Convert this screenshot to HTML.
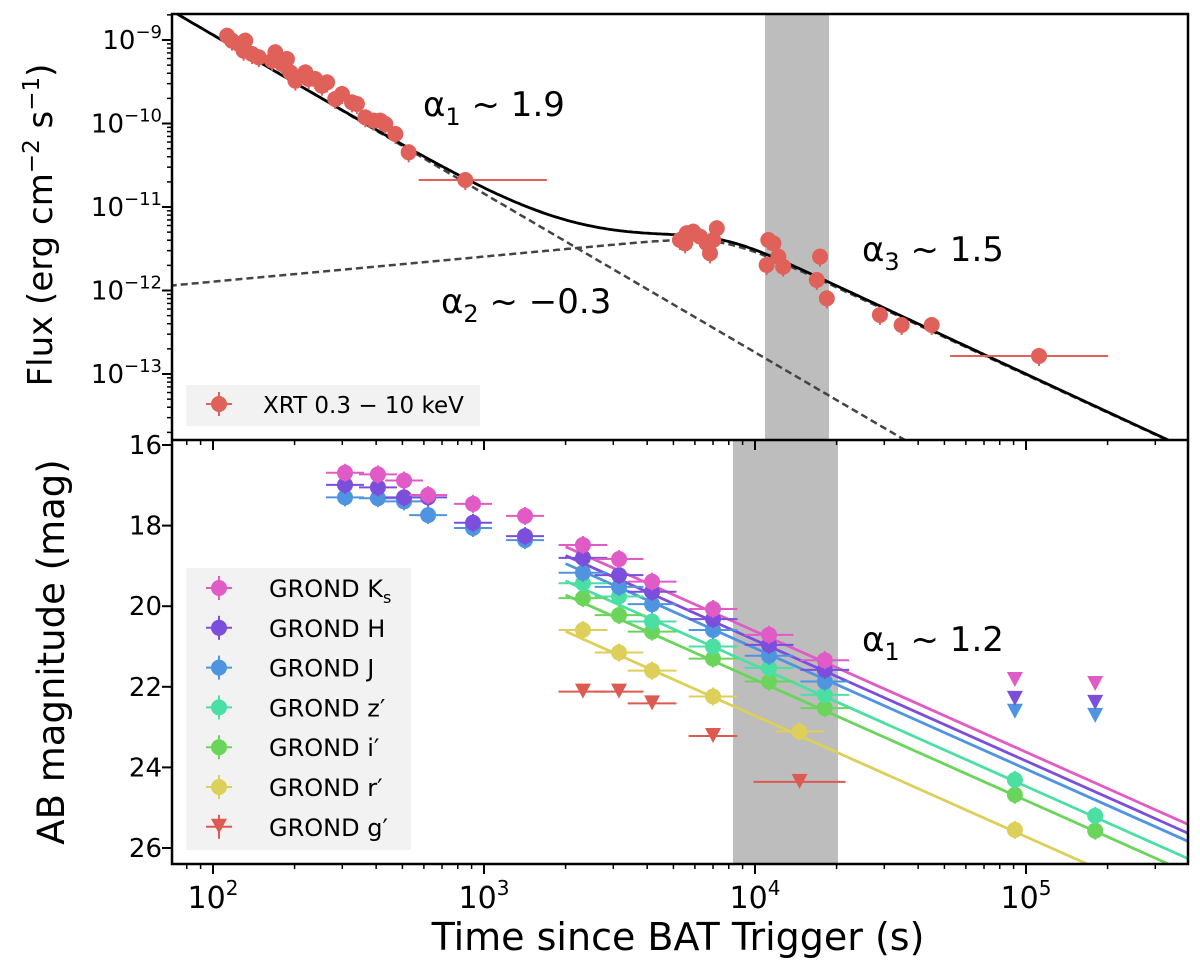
<!DOCTYPE html>
<html><head><meta charset="utf-8"><style>
body{margin:0;background:#fff}
svg{display:block;font-family:"DejaVu Sans","Liberation Sans",sans-serif}
</style></head><body>
<svg id="chart" width="1200" height="966" viewBox="0 0 1200 966"></svg>
<script>
// ---- data ----
const xrtLogT = [2.052,2.070,2.095,2.119,2.113,2.144,2.169,2.218,2.230,2.255,2.273,2.285,2.304,2.341,2.353,2.377,2.402,2.421,2.451,2.476,2.513,2.531,2.562,2.593,2.617,2.636,2.673,2.722,2.931,3.723,3.748,3.772,3.797,3.822,3.834,3.859,3.846,3.742,4.049,4.068,4.043,4.086,4.104,4.240,4.228,4.265,4.461,4.541,4.652,5.048];
const xrtLogF = [-8.949,-9.008,-9.048,-9.008,-9.128,-9.168,-9.207,-9.248,-9.147,-9.287,-9.228,-9.387,-9.487,-9.387,-9.467,-9.467,-9.547,-9.507,-9.707,-9.647,-9.747,-9.766,-9.926,-9.966,-9.966,-10.006,-10.126,-10.345,-10.677,-11.395,-11.315,-11.295,-11.355,-11.435,-11.555,-11.255,-11.395,-11.435,-11.395,-11.435,-11.695,-11.595,-11.715,-11.595,-11.874,-12.094,-12.293,-12.413,-12.413,-12.784];
const xrtXErrLo = {28:2.759, 49:4.720};
const xrtXErrHi = {28:3.232, 49:5.303};
const fitAlpha1 = 1.9, fitAlpha2 = -0.3, fitAlpha3 = 1.5;
const fitNorm1 = -8.94, fitNorm2 = -11.33, fitLogBreak = 3.88;

const gTimes = [307,406,507,622,911,1417,2318,3150,4170,7000,11270,18100];
const magKs = [16.69,16.73,16.88,17.24,17.46,17.76,18.48,18.83,19.39,20.07,20.71,21.34];
const magH  = [16.99,17.05,17.30,17.30,17.93,18.26,18.80,19.23,19.64,20.32,20.96,21.58];
const magJ  = [17.30,17.32,17.40,17.74,18.06,18.36,19.17,19.52,19.95,20.59,21.23,21.87];
const lateTimes = [91000,180000];
const limKs = [21.83,21.93], limH = [22.30,22.40], limJ = [22.62,22.72];
const zTimes = [2318,3150,4170,7000,11270,18100,91000,180000];
const magZ = [19.43,19.76,20.38,21.00,21.53,22.20,24.31,25.20];
const magI = [19.80,20.22,20.63,21.30,21.87,22.53,24.68,25.57];
const rTimes = [2318,3150,4170,7000,14600,91000];
const magR = [20.59,21.15,21.60,22.24,23.11,25.55];
const gLimTimes = [2318,3150,4170,7000,14600];
const limG = [22.12,22.12,22.41,23.22,24.36];
const lineOffsets = {Ks:0,H:0.22,J:0.42,z:0.85,i:1.2,r:2.1};
const lineMag0 = 20.62; // K line at t=1e4
const alphaOpt = 1.2;
const xTicks = [2,3,4,5];
const topTicks = [-9,-10,-11,-12,-13];
const botTicks = [16,18,20,22,24,26];

// ---- scales ----
const X0=172,X1=1188,T0=14,TB=440,B1=864;
const xS = lt => 484 + (lt-3)*271;
const yT = lf => 40 + (-9-lf)*83.5;
const yB = m => 445 + (m-16)*40.3;
const NS='http://www.w3.org/2000/svg';
const svg=document.getElementById('chart');
function el(tag,attrs,parent){const e=document.createElementNS(NS,tag);for(const k in attrs)e.setAttribute(k,attrs[k]);(parent||svg).appendChild(e);return e;}
const col={Ks:'#e05bc6',H:'#7b4fdc',J:'#4f94e0',z:'#4bdfa4',i:'#6bd55b',r:'#dccf5a',g:'#dc5a4f',x:'#e0605a'};

const defs=el('defs',{});
const c1=el('clipPath',{id:'ct'},defs); el('rect',{x:X0,y:T0,width:X1-X0,height:TB-T0},c1);
const c2=el('clipPath',{id:'cb'},defs); el('rect',{x:X0,y:TB,width:X1-X0,height:B1-TB},c2);

// ---- top panel ----
const gt=el('g',{'clip-path':'url(#ct)'});


const band1=el('rect',{x:765,y:T0,width:64,height:TB-T0,fill:'#bdbdbd'},gt);


function pl1(lt){return fitNorm1-fitAlpha1*(lt-2);}
function pl2(lt){const s=3,r=Math.pow(10,lt-fitLogBreak);return fitNorm2+Math.log10(Math.pow(Math.pow(r,s*fitAlpha2)+Math.pow(r,s*fitAlpha3),-1/s));}
let d1='',d2='',d3='';
for(let lt=1.8;lt<=5.65;lt+=0.01){const a=pl1(lt),b=pl2(lt),c=Math.log10(Math.pow(10,a)+Math.pow(10,b));
 d1+=(d1?'L':'M')+xS(lt).toFixed(1)+','+yT(a).toFixed(1);d2+=(d2?'L':'M')+xS(lt).toFixed(1)+','+yT(b).toFixed(1);d3+=(d3?'L':'M')+xS(lt).toFixed(1)+','+yT(c).toFixed(1);}
const p1=el('path',{d:d1,fill:'none',stroke:'#444',"stroke-width":2.5,"stroke-dasharray":'7,4'},gt);


const p2=el('path',{d:d2,fill:'none',stroke:'#444',"stroke-width":2.5,"stroke-dasharray":'7,4'},gt);


const p3=el('path',{d:d3,fill:'none',stroke:'#000',"stroke-width":2.8},gt);


xrtLogT.forEach((lt,k)=>{const x=xS(lt),y=yT(xrtLogF[k]);
 if(xrtXErrLo[k]!==undefined){el('line',{x1:xS(xrtXErrLo[k]),x2:xS(xrtXErrHi[k]),y1:y,y2:y,stroke:col.x,"stroke-width":2},gt);}
 el('line',{x1:x,x2:x,y1:y-8,y2:y+10,stroke:col.x,"stroke-width":2},gt);
 const c=el('circle',{cx:x,cy:y,r:8,fill:col.x},gt);
 
 });

// ---- bottom panel ----
const gb=el('g',{'clip-path':'url(#cb)'});


const band2=el('rect',{x:733,y:TB,width:105,height:B1-TB,fill:'#bdbdbd'},gb);


['r','i','z','J','H','Ks'].forEach(b=>{const m=lt=>lineMag0+lineOffsets[b]+2.5*alphaOpt*(lt-4);
 const ln=el('line',{x1:xS(Math.log10(2000)),y1:yB(m(Math.log10(2000))),x2:xS(5.65),y2:yB(m(5.65)),stroke:col[b],"stroke-width":2.8},gb);
 
 });
function pts(times,mags,c,name){times.forEach((t,k)=>{const lt=Math.log10(t),x=xS(lt),y=yB(mags[k]);
 const w=lt<3.3?0.07:(lt>4.7?0:0.09);
 if(w>0)el('line',{x1:xS(lt-w),x2:xS(lt+w),y1:y,y2:y,stroke:c,"stroke-width":2},gb);
 el('line',{x1:x,x2:x,y1:y-9,y2:y+9,stroke:c,"stroke-width":2},gb);
 const p=el('circle',{cx:x,cy:y,r:8,fill:c},gb);
 
 });}
function lims(times,mags,c,name,xerr){times.forEach((t,k)=>{const lt=Math.log10(t),x=xS(lt),y=yB(mags[k]);
 if(xerr)el('line',{x1:xS(lt-(lt>4?0.17:0.09)),x2:xS(lt+(lt>4?0.17:0.09)),y1:y,y2:y,stroke:c,"stroke-width":2},gb);
 const p=el('path',{d:`M${x-8},${y-8}L${x+8},${y-8}L${x},${y+7}Z`,fill:c},gb);
 
 });}
pts(rTimes,magR,col.r,'r-band');
pts(zTimes,magI,col.i,'i-band');
pts(zTimes,magZ,col.z,'z-band');
pts(gTimes,magJ,col.J,'j-band');
pts(gTimes,magH,col.H,'h-band');
pts(gTimes,magKs,col.Ks,'ks-band');
lims(lateTimes,limJ,col.J,'j-band');
lims(lateTimes,limH,col.H,'h-band');
lims(lateTimes,limKs,col.Ks,'ks-band');
lims(gLimTimes,limG,col.g,'g-band',true);

// ---- axes frames & ticks ----
el('rect',{x:X0,y:T0,width:X1-X0,height:B1-T0,fill:'none',stroke:'#000',"stroke-width":2.5});
el('line',{x1:X0,x2:X1,y1:TB,y2:TB,stroke:'#000',"stroke-width":2.5});
const ax=el('g',{stroke:'#000'});
for(let d=1;d<=5;d++)for(let m=1;m<10;m++){const lt=d+Math.log10(m);const x=xS(lt);if(x<X0||x>X1)continue;
 const L=m==1?10:5;
 el('line',{x1:x,x2:x,y1:B1,y2:B1+L,"stroke-width":m==1?2:1.5},ax);
 el('line',{x1:x,x2:x,y1:TB,y2:TB+L,"stroke-width":m==1?2:1.5},ax);}
for(let d=-14;d<=-8;d++)for(let m=1;m<10;m++){const lf=d+Math.log10(m);const y=yT(lf);if(y<T0||y>TB)continue;
 el('line',{x1:X0,x2:X0-(m==1?10:5),y1:y,y2:y,"stroke-width":m==1?2:1.5},ax);}
botTicks.forEach(v=>el('line',{x1:X0,x2:X0-10,y1:yB(v),y2:yB(v),"stroke-width":2},ax));

function txt(x,y,s,size,anchor,name){const t=el('text',{x:x,y:y,'font-size':size,'text-anchor':anchor||'start',fill:'#000'});t.innerHTML=s;
 
 return t;}
xTicks.forEach(d=>txt(xS(d),908,`10<tspan dy="-13" font-size="20">${d}</tspan>`,30,'middle','x-tick-label'));
topTicks.forEach(d=>txt(162,yT(d)+9,`10<tspan dy="-11" font-size="18">−${-d}</tspan>`,26,'end','y-tick-label-top'));
botTicks.forEach(v=>txt(162,yB(v)+9,String(v),26,'end','y-tick-label-bottom'));

txt(678,950,'Time since BAT Trigger (s)',38,'middle','x-axis-title');
const yt1=txt(0,0,'Flux (erg cm<tspan dy="-13" font-size="23">−2</tspan><tspan dy="13"> s</tspan><tspan dy="-13" font-size="23">−1</tspan><tspan dy="13">)</tspan>',34,'middle','y-axis-title-flux');
yt1.setAttribute('transform','translate(52,225) rotate(-90)');
const yt2=txt(0,0,'AB magnitude (mag)',37,'middle','y-axis-title-magnitude');
yt2.setAttribute('transform','translate(64,652) rotate(-90)');

txt(423,116,'α<tspan dy="9" font-size="24">1</tspan><tspan dy="-9"> ~ 1.9</tspan>',34,'start','alpha1-annotation');
txt(441,313,'α<tspan dy="9" font-size="24">2</tspan><tspan dy="-9"> ~ −0.3</tspan>',34,'start','alpha2-annotation');
txt(862,261,'α<tspan dy="9" font-size="24">3</tspan><tspan dy="-9"> ~ 1.5</tspan>',34,'start','alpha3-annotation');
txt(862,651,'α<tspan dy="9" font-size="24">1</tspan><tspan dy="-9"> ~ 1.2</tspan>',34,'start','alpha-optical-annotation');

// legends
const lg1=el('g',{});


el('rect',{x:186,y:385,width:294,height:41,fill:'#f2f2f2'},lg1);
el('line',{x1:206,x2:232,y1:404,y2:404,stroke:col.x,"stroke-width":2},lg1);
el('line',{x1:219,x2:219,y1:392,y2:416,stroke:col.x,"stroke-width":2},lg1);
el('circle',{cx:219,cy:404,r:8,fill:col.x},lg1);
txt(263,413,'XRT 0.3 − 10 keV',23,'start','xrt-legend-label');

const lg2=el('g',{});


el('rect',{x:186,y:568,width:225,height:282,fill:'#f2f2f2'},lg2);
const legBands=['Ks','H','J','z','i','r','g'];
const legLabels=['GROND K<tspan dy="6" font-size="16">s</tspan>','GROND H','GROND J','GROND z′','GROND i′','GROND r′','GROND g′'];
legBands.forEach((b,k)=>{const y=588+k*39.8;const c=col[b];
 el('line',{x1:206,x2:232,y1:y,y2:y,stroke:c,"stroke-width":2},lg2);
 el('line',{x1:219,x2:219,y1:y-12,y2:y+12,stroke:c,"stroke-width":2},lg2);
 if(b==='g')el('path',{d:`M211,${y-8}L227,${y-8}L219,${y+7}Z`,fill:c},lg2);
 else el('circle',{cx:219,cy:y,r:8,fill:c},lg2);
 txt(269,y+9,legLabels[k],24,'start','legend-entry-'+b.toLowerCase());});
</script>
</body></html>
